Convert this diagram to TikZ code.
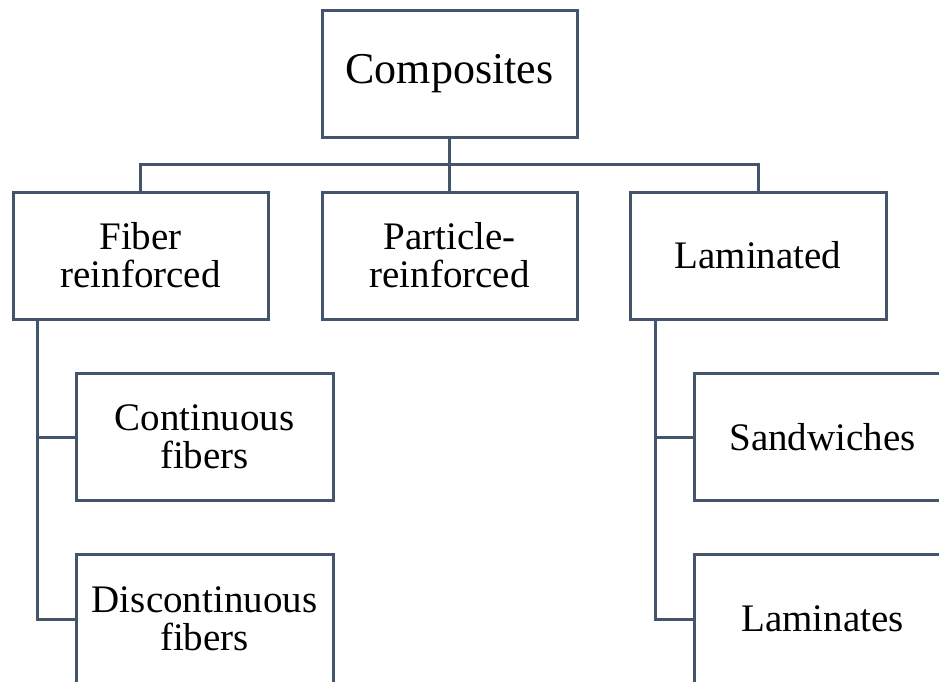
\documentclass[tikz,border=0pt]{standalone}
\usepackage{fontspec}
\setmainfont{Liberation Serif}
\begin{document}
\begin{tikzpicture}[x=1pt,y=-1pt,
  line width=3pt,
  box/.style={draw=lineC, rectangle, inner sep=0pt, minimum width=255pt, minimum height=127pt,
    align=center, font=\fontsize{39}{38}\selectfont, text=black},
  conn/.style={draw=lineC, line width=3pt}]
\definecolor{lineC}{HTML}{44546A}
\useasboundingbox (0,0) rectangle (939,681);
\clip (0,0) rectangle (939,681);
\node[box, font=\fontsize{44}{44}\selectfont] (comp) at (449.5,74) {Composites};
\node[box] (fiber) at (140.5,255.5) {Fiber\\reinforced};
\node[box] (part) at (449.5,255.5) {Particle-\\reinforced};
\node[box, minimum width=256pt] (lam) at (758,255.5) {Laminated};
\node[box, minimum width=257pt] (cont) at (204.5,437) {Continuous\\fibers};
\node[box, minimum width=257pt, minimum height=130pt] (disc) at (204.5,619) {Discontinuous\\fibers};
\node[box, minimum width=257pt] (sand) at (822.5,437) {Sandwiches};
\node[box, minimum width=257pt, minimum height=130pt] (lamn) at (822.5,619) {Laminates};
\coordinate (bus) at (449.5,164);
\draw[conn] (comp.south) -- (bus);
\draw[conn] (part.north) -- (bus);
\draw[conn] (fiber.north) |- (bus);
\draw[conn] (lam.north) |- (bus);
\coordinate (fl) at ([xshift=26pt]fiber.south west);
\coordinate (ll) at ([xshift=27pt]lam.south west);
\draw[conn] (fl) |- (cont.west);
\draw[conn] (fl) |- (disc.west);
\draw[conn] (ll) |- (sand.west);
\draw[conn] (ll) |- (lamn.west);
\end{tikzpicture}
\end{document}
